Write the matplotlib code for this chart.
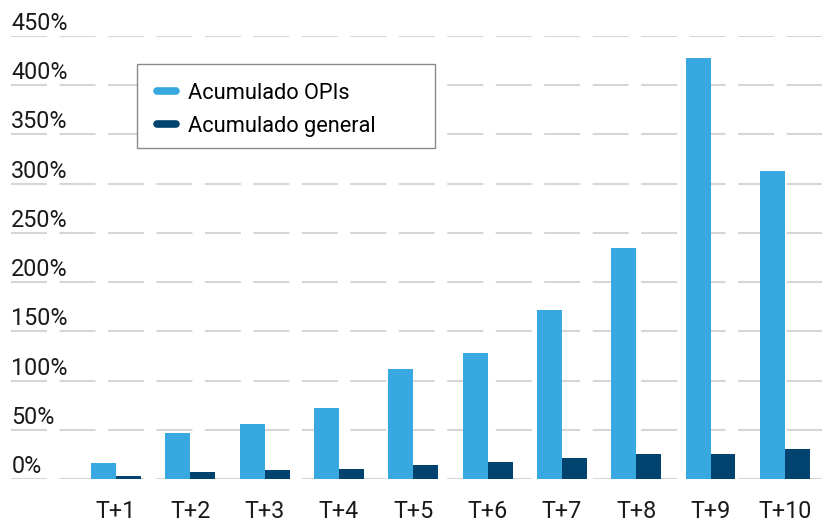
import matplotlib
matplotlib.use("Agg")
import matplotlib.pyplot as plt
from matplotlib.lines import Line2D
from matplotlib.patches import Rectangle
import numpy as np

plt.rcParams['font.family'] = ['Roboto', 'DejaVu Sans']

# data
periods = ["T+1", "T+2", "T+3", "T+4", "T+5", "T+6", "T+7", "T+8", "T+9", "T+10"]
opis = [16.2, 46.7, 55.8, 72.0, 111.6, 127.8, 171.4, 234.3, 427.3, 312.3]
general = [3.0, 7.1, 9.1, 10.1, 14.2, 17.2, 21.3, 25.7, 25.7, 30.4]
yticks = list(range(0, 451, 50))

light = "#37A9E0"
dark = "#00436F"

W, H = 822, 522
fig = plt.figure(figsize=(W / 100, H / 100), dpi=100)
ax = fig.add_axes([10.5 / W, (H - 479.3) / H, (W - 10.5) / W, (479.3 - 35.6) / H])

x = np.arange(len(periods))
bw = 0.336
ax.bar(x - bw / 2, opis, bw, color=light, zorder=2)
ax.bar(x + bw / 2, general, bw, color=dark, zorder=2)

ax.set_xlim(-1.42, 9.5)
ax.set_ylim(0, 450)
ax.set_yticks(yticks)
ax.yaxis.grid(True, color="#d6d6d6", linewidth=1.5,
              linestyle=(0, (25.9 / 1.5, 9.0 / 1.5)), zorder=1)
ax.set_axisbelow(True)
ax.tick_params(axis="y", length=0, labelleft=False)
ax.set_xticks(x)
ax.set_xticklabels(periods, fontsize=16.8, color="#1a1a1a")
ax.tick_params(axis="x", length=0, pad=15)
for s in ax.spines.values():
    s.set_visible(False)

for v in yticks:
    ax.annotate(f"{v}%", xy=(0, v), xycoords=("axes fraction", "data"),
                xytext=(0.6, 4.3), textcoords="offset points",
                ha="left", va="baseline", fontsize=16.8, color="#1a1a1a")

# legend box
fig.patches.append(Rectangle((137.3 / W, 1 - 148.3 / H), (435 - 137.3) / W, (148.3 - 64.3) / H,
                             transform=fig.transFigure, facecolor="white",
                             edgecolor="#8a8a8a", linewidth=1.0, zorder=5))
handles = [Line2D([0], [0], color=light, linewidth=5.5, solid_capstyle="round"),
           Line2D([0], [0], color=dark, linewidth=5.5, solid_capstyle="round")]
leg = fig.legend(handles, ["Acumulado OPIs", "Acumulado general"],
                 loc="upper left", bbox_to_anchor=(157 / W, 1 - 83 / H),
                 frameon=False, fontsize=15.7, handlelength=0.85,
                 handletextpad=0.55, labelspacing=0.55, borderpad=0,
                 borderaxespad=0)
leg.set_zorder(6)

fig.savefig("out.png", dpi=100)
